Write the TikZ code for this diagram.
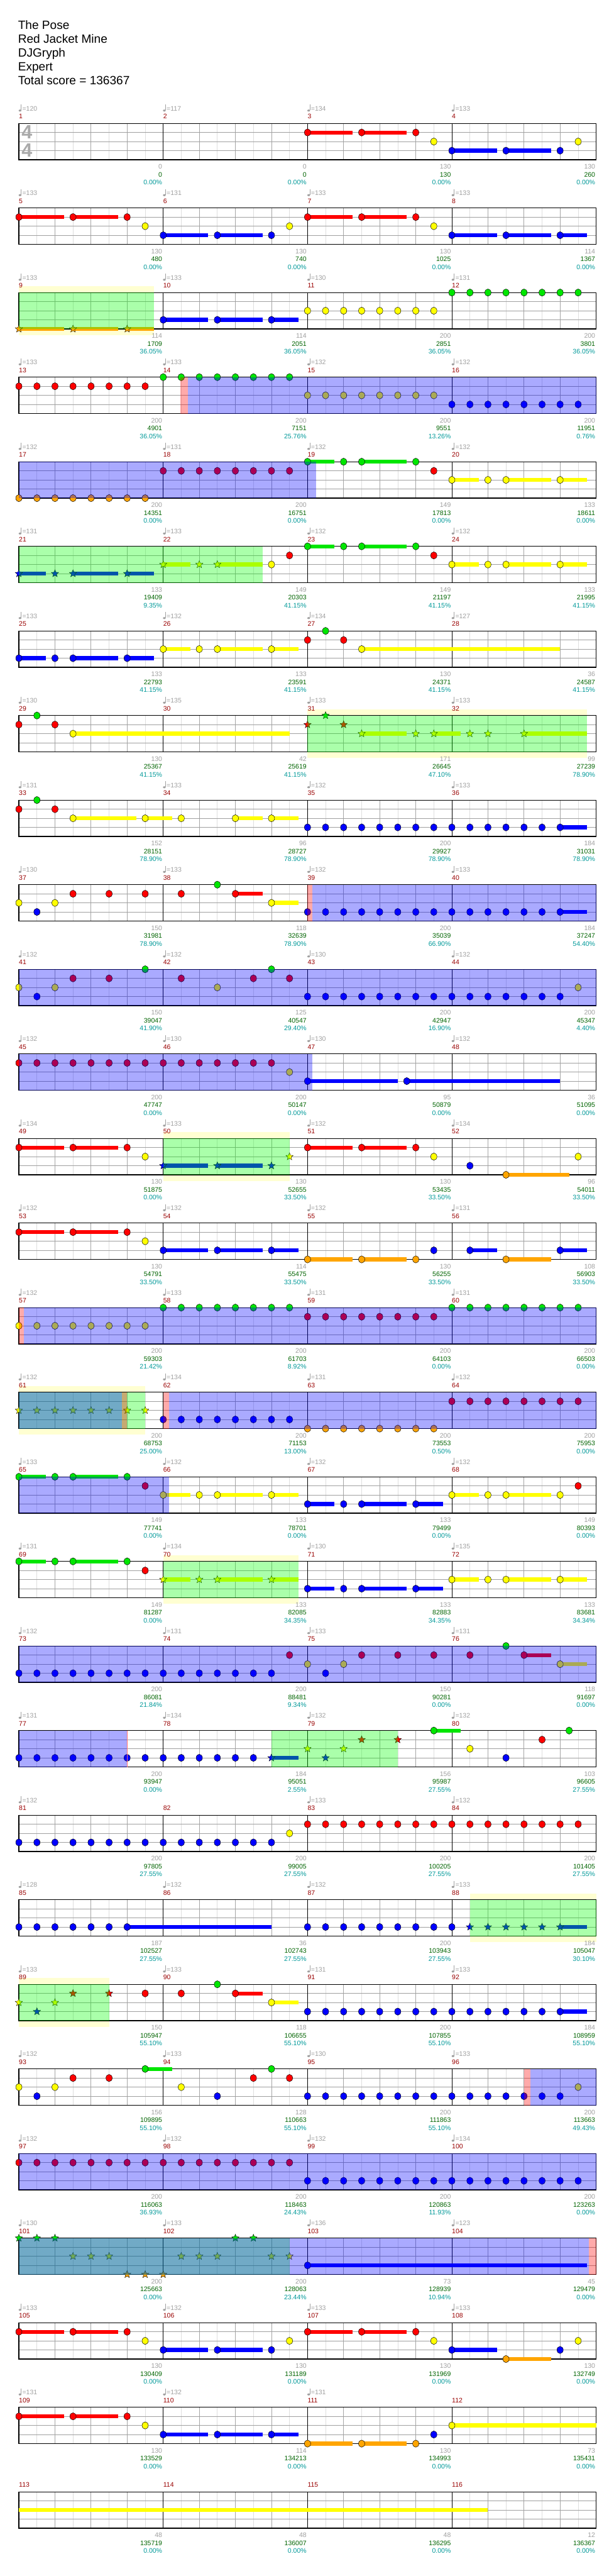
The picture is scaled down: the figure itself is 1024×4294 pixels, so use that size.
\documentclass[tikz,border=0pt]{standalone}
\usepackage{fontspec}
\setmainfont{Liberation Sans}
\usetikzlibrary{shapes.geometric}
\definecolor{cG}{RGB}{0,230,0}
\definecolor{cR}{RGB}{255,0,0}
\definecolor{cY}{RGB}{255,255,0}
\definecolor{cB}{RGB}{0,0,255}
\definecolor{cO}{RGB}{255,165,0}
\definecolor{ceighth}{RGB}{222,222,222}
\definecolor{cbeat}{RGB}{165,165,165}
\definecolor{clane}{RGB}{160,160,160}
\definecolor{ctext}{RGB}{160,160,160}
\definecolor{cmnum}{RGB}{153,0,0}
\definecolor{cscore}{RGB}{0,100,0}
\definecolor{cpct}{RGB}{0,153,153}
\definecolor{cband}{RGB}{255,255,210}
\definecolor{cts}{RGB}{170,170,170}
\newcommand\pX[1]{31.5+30.09375*(#1)}
\newcommand\rT[1]{205.7+141*(#1)}
\newcommand\lY[2]{205.7+141*(#1)+15.15*(#2)}
\tikzset{
  lbl/.style={font=\fontsize{11}{12}\selectfont, inner sep=0pt},
  mnum/.style={lbl, text=cmnum, anchor=west},
  snum/.style={lbl, anchor=east},
  tempo/.style={lbl, text=ctext, anchor=west},
  notehead/.style={draw=black, line width=0.5pt},
  starn/.style={star, star points=5, star point ratio=2.3, minimum size=13pt, inner sep=0pt, draw=black, line width=0.4pt},
  titletext/.style={font=\fontsize{20}{24}\selectfont, anchor=base west, inner sep=0pt},
}
% notes
\newcommand\Ns[4]{\foreach \p in {#4}{\filldraw[notehead, fill=#3] ({\pX{\p}},{\lY{#1}{#2}}) ellipse [x radius=5.2pt, y radius=6pt];}}
\newcommand\Ss[4]{\foreach \p in {#4}{\node[starn, fill=#3] at ({\pX{\p}},{\lY{#1}{#2}}) {};}}
\newcommand\Su[5]{\fill[#5] ({\pX{#2}},{\lY{#1}{#4}-3.3}) rectangle ({\pX{#3}},{\lY{#1}{#4}+3.3});}
% overlays
\newcommand\Ov[4]{\fill[#4, fill opacity=0.333] ({\pX{#2}},{\rT{#1}}) rectangle ({\pX{#3}},{\rT{#1}+60.6});}
\newcommand\Band[3]{\fill[cband] ({\pX{#2}},{\rT{#1}-10.4}) rectangle ({\pX{#3}},{\rT{#1}+71});}
% staff
\newcommand\Staff[1]{%
  \fill[white] (31.5,{\rT{#1}}) rectangle (994.5,{\rT{#1}+60.6});
  \foreach \k in {1,3,...,31}{\draw[ceighth, line width=0.8pt] ({\pX{\k}},{\rT{#1}}) -- ++(0,60.6);}
  \foreach \k in {2,4,6,10,12,14,18,20,22,26,28,30}{\draw[cbeat, line width=0.9pt] ({\pX{\k}},{\rT{#1}}) -- ++(0,60.6);}
  \foreach \l in {1,2,3}{\draw[clane, line width=1pt] (31.5,{\lY{#1}{\l}}) -- (994.5,{\lY{#1}{\l}});}
  \foreach \k in {8,16,24}{\draw[black, line width=0.8pt] ({\pX{\k}},{\rT{#1}}) -- ++(0,60.6);}
  \draw[black, line width=1.2pt] (31.5,{\rT{#1}}) rectangle (994.5,{\rT{#1}+60.6});}
% measure texts: row, m, tempo, a, b, c
\newcommand\Meas[6]{%
  \node[mnum] at ({31.5+240.75*(#2)},{\rT{#1}-11.7}) {\the\numexpr 4*#1+#2+1\relax};
  \ifx\relax#3\relax\else
    \fill[ctext] ({31.5+240.75*(#2)+1.9},{\rT{#1}-21.4}) ellipse [x radius=2.3pt, y radius=1.7pt];
    \draw[ctext, line width=0.6pt] ({31.5+240.75*(#2)+3.9},{\rT{#1}-21.8}) -- ({31.5+240.75*(#2)+3.9},{\rT{#1}-31.5});
    \node[tempo] at ({31.5+240.75*(#2)+5.6},{\rT{#1}-24.7}) {=#3};
  \fi
  \node[snum, text=ctext] at ({31.5+240.75*(#2+1)-1.5},{\rT{#1}+72.3}) {#4};
  \node[snum, text=cscore] at ({31.5+240.75*(#2+1)-1.5},{\rT{#1}+85.3}) {#5};
  \node[snum, text=cpct] at ({31.5+240.75*(#2+1)-1.5},{\rT{#1}+98.3}) {#6};}
\begin{document}
\begin{tikzpicture}[x=1pt,y=-1pt]
\useasboundingbox (0,0) rectangle (1024,4294);
\fill[white] (0,0) rectangle (1024,4294);
% ---------- title ----------
\node[titletext] (t1) at (30,48.3) {The Pose};
\node[titletext] (t2) at (30,71.5) {Red Jacket Mine};
\node[titletext] (t3) at (30,94.7) {DJGryph};
\node[titletext] (t4) at (30,117.9) {Expert};
\node[titletext] (t5) at (30,141.1) {Total score = 136367};
% ---------- star power bands ----------
\Band{2}{0}{7.5}
\Band{7}{16}{31.5}
\Band{12}{8}{15}
\Band{15}{0}{7}
\Band{17}{8}{15.5}
\Band{21}{25}{32}
\Band{22}{0}{5}
% ---------- staffs ----------
\foreach \r in {0,...,28}{\Staff{\r}}
\node[font=\fontsize{32}{32}\selectfont\bfseries, text=cts, inner sep=0pt] (ts1) at (45,{\rT{0}+14.8}) {4};
\node[font=\fontsize{32}{32}\selectfont\bfseries, text=cts, inner sep=0pt] (ts2) at (45,{\rT{0}+44.8}) {4};
% ---------- row 0 ----------
\Su{0}{16}{18.5}{1}{cR}\Su{0}{19}{21.5}{1}{cR}\Su{0}{24}{26.5}{3}{cB}\Su{0}{27}{29.5}{3}{cB}
\Ns{0}{1}{cR}{16,19,22}\Ns{0}{2}{cY}{23,31}\Ns{0}{3}{cB}{24,27,30}
% ---------- row 1 ----------
\Su{1}{0}{2.5}{1}{cR}\Su{1}{3}{5.5}{1}{cR}\Su{1}{8}{10.5}{3}{cB}\Su{1}{11}{13.5}{3}{cB}\Su{1}{16}{18.5}{1}{cR}\Su{1}{19}{21.5}{1}{cR}\Su{1}{24}{26.5}{3}{cB}\Su{1}{27}{29.5}{3}{cB}\Su{1}{30}{31.5}{3}{cB}
\Ns{1}{1}{cR}{0,3,6,16,19,22}\Ns{1}{2}{cY}{7,15,23}\Ns{1}{3}{cB}{8,11,14,24,27,30}
% ---------- row 2 ----------
\Su{2}{0}{2.5}{4}{cO}\Su{2}{3}{5.5}{4}{cO}\Su{2}{6}{7.5}{4}{cO}\Su{2}{8}{10.5}{3}{cB}\Su{2}{11}{13.5}{3}{cB}\Su{2}{14}{15.5}{3}{cB}
\Ss{2}{4}{cO}{0,3,6}\Ns{2}{3}{cB}{8,11,14}\Ns{2}{2}{cY}{16,...,23}\Ns{2}{0}{cG}{24,...,31}
% ---------- row 3 ----------
\Ns{3}{1}{cR}{0,...,7}\Ns{3}{0}{cG}{8,...,15}\Ns{3}{2}{cY}{16,...,23}\Ns{3}{3}{cB}{24,...,31}
% ---------- row 4 ----------
\Su{4}{16}{17.5}{0}{cG}\Su{4}{19}{21.5}{0}{cG}\Su{4}{24}{25.5}{2}{cY}\Su{4}{27}{29.5}{2}{cY}\Su{4}{30}{31.5}{2}{cY}
\Ns{4}{4}{cO}{0,...,7}\Ns{4}{1}{cR}{8,...,15}\Ns{4}{0}{cG}{16,18,19,22}\Ns{4}{1}{cR}{23}\Ns{4}{2}{cY}{24,26,27,30}
% ---------- row 5 ----------
\Su{5}{0}{1.5}{3}{cB}\Su{5}{3}{5.5}{3}{cB}\Su{5}{6}{7.5}{3}{cB}\Su{5}{8}{9.5}{2}{cY}\Su{5}{11}{13.5}{2}{cY}\Su{5}{16}{17.5}{0}{cG}\Su{5}{19}{21.5}{0}{cG}\Su{5}{24}{25.5}{2}{cY}\Su{5}{27}{29.5}{2}{cY}\Su{5}{30}{31.5}{2}{cY}
\Ss{5}{3}{cB}{0,2,3,6}\Ss{5}{2}{cY}{8,10,11}\Ns{5}{2}{cY}{14,24,26,27,30}\Ns{5}{1}{cR}{15,23}\Ns{5}{0}{cG}{16,18,19,22}
% ---------- row 6 ----------
\Su{6}{0}{1.5}{3}{cB}\Su{6}{3}{5.5}{3}{cB}\Su{6}{6}{7.5}{3}{cB}\Su{6}{8}{9.5}{2}{cY}\Su{6}{11}{13.5}{2}{cY}\Su{6}{14}{15.5}{2}{cY}\Su{6}{19}{30}{2}{cY}
\Ns{6}{3}{cB}{0,2,3,6}\Ns{6}{2}{cY}{8,10,11,14,19}\Ns{6}{1}{cR}{16,18}\Ns{6}{0}{cG}{17}
% ---------- row 7 ----------
\Su{7}{3}{15}{2}{cY}\Su{7}{19}{21.5}{2}{cY}\Su{7}{23}{24.5}{2}{cY}\Su{7}{28}{31.5}{2}{cY}
\Ns{7}{1}{cR}{0,2}\Ns{7}{0}{cG}{1}\Ns{7}{2}{cY}{3}\Ss{7}{1}{cR}{16,18}\Ss{7}{0}{cG}{17}\Ss{7}{2}{cY}{19,22,23,25,26,28}
% ---------- row 8 ----------
\Su{8}{3}{6.5}{2}{cY}\Su{8}{7}{8.5}{2}{cY}\Su{8}{12}{13.5}{2}{cY}\Su{8}{14}{15.5}{2}{cY}\Su{8}{30}{31.5}{3}{cB}
\Ns{8}{1}{cR}{0,2}\Ns{8}{0}{cG}{1}\Ns{8}{2}{cY}{3,7,9,12,14}\Ns{8}{3}{cB}{16,...,30}
% ---------- row 9 ----------
\Su{9}{12}{13.5}{1}{cR}\Su{9}{14}{15.5}{2}{cY}\Su{9}{30}{31.5}{3}{cB}
\Ns{9}{2}{cY}{0,2,14}\Ns{9}{3}{cB}{1}\Ns{9}{3}{cB}{16,...,30}\Ns{9}{1}{cR}{3,5,7,9,12}\Ns{9}{0}{cG}{11}
% ---------- row 10 ----------
\Ns{10}{2}{cY}{0,2,11,31}\Ns{10}{3}{cB}{1}\Ns{10}{3}{cB}{16,...,30}\Ns{10}{1}{cR}{3,5,9,13,15}\Ns{10}{0}{cG}{7,14}
% ---------- row 11 ----------
\Su{11}{16}{21}{3}{cB}\Su{11}{21.5}{30}{3}{cB}
\Ns{11}{1}{cR}{0,...,14}\Ns{11}{2}{cY}{15}\Ns{11}{3}{cB}{16,21.5}
% ---------- row 12 ----------
\Su{12}{0}{2.5}{1}{cR}\Su{12}{3}{5.5}{1}{cR}\Su{12}{8}{10.5}{3}{cB}\Su{12}{11}{13.5}{3}{cB}\Su{12}{16}{18.5}{1}{cR}\Su{12}{19}{21.5}{1}{cR}\Su{12}{27}{30.5}{4}{cO}
\Ns{12}{1}{cR}{0,3,6,16,19,22}\Ns{12}{2}{cY}{7,23,31}\Ss{12}{3}{cB}{8,11,14}\Ss{12}{2}{cY}{15}\Ns{12}{3}{cB}{25}\Ns{12}{4}{cO}{27}
% ---------- row 13 ----------
\Su{13}{0}{2.5}{1}{cR}\Su{13}{3}{5.5}{1}{cR}\Su{13}{8}{10.5}{3}{cB}\Su{13}{11}{13.5}{3}{cB}\Su{13}{14}{15.5}{3}{cB}\Su{13}{16}{18.5}{4}{cO}\Su{13}{19}{21.5}{4}{cO}\Su{13}{25}{26.5}{3}{cB}\Su{13}{27}{29.5}{4}{cO}\Su{13}{30}{31.5}{3}{cB}
\Ns{13}{1}{cR}{0,3,6}\Ns{13}{2}{cY}{7}\Ns{13}{3}{cB}{8,11,14,23,25,30}\Ns{13}{4}{cO}{16,19,22,27}
% ---------- row 14 ----------
\Ns{14}{2}{cY}{0,...,7}\Ns{14}{0}{cG}{8,...,15}\Ns{14}{1}{cR}{16,...,23}\Ns{14}{0}{cG}{24,...,31}
% ---------- row 15 ----------
\Ss{15}{2}{cY}{0,...,7}\Ns{15}{3}{cB}{8,...,15}\Ns{15}{4}{cO}{16,...,23}\Ns{15}{1}{cR}{24,...,31}
% ---------- row 16 ----------
\Su{16}{0}{1.5}{0}{cG}\Su{16}{3}{5.5}{0}{cG}\Su{16}{8}{9.5}{2}{cY}\Su{16}{11}{13.5}{2}{cY}\Su{16}{14}{15.5}{2}{cY}\Su{16}{16}{17.5}{3}{cB}\Su{16}{19}{21.5}{3}{cB}\Su{16}{22}{23.5}{3}{cB}\Su{16}{24}{25.5}{2}{cY}\Su{16}{27}{29.5}{2}{cY}
\Ns{16}{0}{cG}{0,2,3,6}\Ns{16}{1}{cR}{7,31}\Ns{16}{2}{cY}{8,10,11,14,24,26,27,30}\Ns{16}{3}{cB}{16,18,19,22}
% ---------- row 17 ----------
\Su{17}{0}{1.5}{0}{cG}\Su{17}{3}{5.5}{0}{cG}\Su{17}{8}{9.5}{2}{cY}\Su{17}{11}{13.5}{2}{cY}\Su{17}{14}{15.5}{2}{cY}\Su{17}{16}{17.5}{3}{cB}\Su{17}{19}{21.5}{3}{cB}\Su{17}{22}{23.5}{3}{cB}\Su{17}{24}{25.5}{2}{cY}\Su{17}{27}{29.5}{2}{cY}\Su{17}{30}{31.5}{2}{cY}
\Ns{17}{0}{cG}{0,2,3,6}\Ns{17}{1}{cR}{7}\Ss{17}{2}{cY}{8,10,11,14}\Ns{17}{2}{cY}{24,26,27,30}\Ns{17}{3}{cB}{16,18,19,22}
% ---------- row 18 ----------
\Su{18}{28}{29.5}{1}{cR}\Su{18}{30}{31.5}{2}{cY}
\Ns{18}{3}{cB}{0,...,14}\Ns{18}{3}{cB}{17}\Ns{18}{1}{cR}{15,19,21,23,25,28}\Ns{18}{2}{cY}{16,18,30}\Ns{18}{0}{cG}{27}
% ---------- row 19 ----------
\Su{19}{14}{15.5}{3}{cB}\Su{19}{23}{24.5}{0}{cG}
\Ns{19}{3}{cB}{0,...,13}\Ss{19}{3}{cB}{14,17}\Ss{19}{2}{cY}{16,18}\Ss{19}{1}{cR}{19,21}\Ns{19}{0}{cG}{23,30.5}\Ns{19}{2}{cY}{25}\Ns{19}{3}{cB}{27}\Ns{19}{1}{cR}{29}
% ---------- row 20 ----------
\Ns{20}{3}{cB}{0,...,14}\Ns{20}{2}{cY}{15}\Ns{20}{1}{cR}{16,...,31}
% ---------- row 21 ----------
\Su{21}{6}{14}{3}{cB}\Su{21}{30}{31.5}{3}{cB}
\Ns{21}{3}{cB}{0,...,6}\Ns{21}{3}{cB}{16,...,24}\Ss{21}{3}{cB}{25,...,30}
% ---------- row 22 ----------
\Su{22}{12}{13.5}{1}{cR}\Su{22}{14}{15.5}{2}{cY}\Su{22}{30}{31.5}{3}{cB}
\Ss{22}{2}{cY}{0,2}\Ss{22}{3}{cB}{1}\Ss{22}{1}{cR}{3,5}\Ns{22}{1}{cR}{7,9,12}\Ns{22}{0}{cG}{11}\Ns{22}{2}{cY}{14}\Ns{22}{3}{cB}{16,...,30}
% ---------- row 23 ----------
\Su{23}{7}{8.5}{0}{cG}
\Ns{23}{2}{cY}{0,2,9,31}\Ns{23}{3}{cB}{1,11}\Ns{23}{3}{cB}{16,...,30}\Ns{23}{1}{cR}{3,5,13,15}\Ns{23}{0}{cG}{7,14}
% ---------- row 24 ----------
\Ns{24}{1}{cR}{0,...,15}\Ns{24}{3}{cB}{16,...,31}
% ---------- row 25 ----------
\Su{25}{16}{31.5}{3}{cB}
\Ss{25}{0}{cG}{0,1,2,12,13}\Ss{25}{2}{cY}{3,4,5,9,10,11,14,15}\Ss{25}{4}{cO}{6,7,8}\Ns{25}{3}{cB}{16}
% ---------- row 26 ----------
\Su{26}{0}{2.5}{1}{cR}\Su{26}{3}{5.5}{1}{cR}\Su{26}{8}{10.5}{3}{cB}\Su{26}{11}{13.5}{3}{cB}\Su{26}{16}{18.5}{1}{cR}\Su{26}{19}{21.5}{1}{cR}\Su{26}{24}{26.5}{3}{cB}\Su{26}{27}{29.5}{4}{cO}
\Ns{26}{1}{cR}{0,3,6,16,19,22}\Ns{26}{2}{cY}{7,15,23,31}\Ns{26}{3}{cB}{8,11,14,24,30}\Ns{26}{4}{cO}{27}
% ---------- row 27 ----------
\Su{27}{0}{2.5}{1}{cR}\Su{27}{3}{5.5}{1}{cR}\Su{27}{8}{10.5}{3}{cB}\Su{27}{11}{13.5}{3}{cB}\Su{27}{14}{15.5}{3}{cB}\Su{27}{16}{18.5}{4}{cO}\Su{27}{19}{21.5}{4}{cO}\Su{27}{24}{32}{2}{cY}
\Ns{27}{1}{cR}{0,3,6}\Ns{27}{2}{cY}{7,24}\Ns{27}{3}{cB}{8,11,14,23}\Ns{27}{4}{cO}{16,19,22}
% ---------- row 28 ----------
\Su{28}{0}{26}{2}{cY}
% ---------- star power phrases (green) ----------
\Ov{2}{0}{7.5}{green}
\Ov{5}{0}{13.5}{green}
\Ov{7}{16}{31.5}{green}
\Ov{12}{8}{15}{green}
\Ov{15}{0}{7}{green}
\Ov{17}{8}{15.5}{green}
\Ov{19}{14}{21}{green}
\Ov{21}{25}{32}{green}
\Ov{22}{0}{5}{green}
\Ov{25}{0}{15}{green}
% ---------- activations (blue) ----------
\Ov{3}{9.38}{32}{blue}
\Ov{4}{0}{16.46}{blue}
\Ov{9}{16.28}{32}{blue}
\Ov{10}{0}{32}{blue}
\Ov{11}{0}{16.28}{blue}
\Ov{14}{0.26}{32}{blue}
\Ov{15}{0}{5.7}{blue}
\Ov{15}{8.32}{32}{blue}
\Ov{16}{0}{8.32}{blue}
\Ov{18}{0}{32}{blue}
\Ov{19}{0}{6}{blue}
\Ov{23}{28.36}{32}{blue}
\Ov{24}{0}{32}{blue}
\Ov{25}{0}{31.6}{blue}
% ---------- activation markers (red) ----------
\Ov{3}{8.95}{9.38}{red}
\Ov{9}{16}{16.28}{red}
\Ov{14}{0}{0.26}{red}
\Ov{15}{5.7}{6}{red}
\Ov{15}{8}{8.32}{red}
\Ov{23}{28}{28.36}{red}
\Ov{25}{31.6}{32}{red}
\draw[red!55, line width=0.8pt] ({\pX{6}},{\rT{19}}) -- ({\pX{6}},{\rT{19}+60.6});
% ---------- measure texts ----------
\Meas{0}{0}{120}{0}{0}{0.00\%}\Meas{0}{1}{117}{0}{0}{0.00\%}\Meas{0}{2}{134}{130}{130}{0.00\%}\Meas{0}{3}{133}{130}{260}{0.00\%}
\Meas{1}{0}{133}{130}{480}{0.00\%}\Meas{1}{1}{131}{130}{740}{0.00\%}\Meas{1}{2}{133}{130}{1025}{0.00\%}\Meas{1}{3}{133}{114}{1367}{0.00\%}
\Meas{2}{0}{133}{114}{1709}{36.05\%}\Meas{2}{1}{133}{114}{2051}{36.05\%}\Meas{2}{2}{130}{200}{2851}{36.05\%}\Meas{2}{3}{131}{200}{3801}{36.05\%}
\Meas{3}{0}{133}{200}{4901}{36.05\%}\Meas{3}{1}{133}{200}{7151}{25.76\%}\Meas{3}{2}{132}{200}{9551}{13.26\%}\Meas{3}{3}{132}{200}{11951}{0.76\%}
\Meas{4}{0}{132}{200}{14351}{0.00\%}\Meas{4}{1}{131}{200}{16751}{0.00\%}\Meas{4}{2}{132}{149}{17813}{0.00\%}\Meas{4}{3}{132}{133}{18611}{0.00\%}
\Meas{5}{0}{131}{133}{19409}{9.35\%}\Meas{5}{1}{133}{149}{20303}{41.15\%}\Meas{5}{2}{132}{149}{21197}{41.15\%}\Meas{5}{3}{132}{133}{21995}{41.15\%}
\Meas{6}{0}{133}{133}{22793}{41.15\%}\Meas{6}{1}{132}{133}{23591}{41.15\%}\Meas{6}{2}{134}{130}{24371}{41.15\%}\Meas{6}{3}{127}{36}{24587}{41.15\%}
\Meas{7}{0}{130}{130}{25367}{41.15\%}\Meas{7}{1}{135}{42}{25619}{41.15\%}\Meas{7}{2}{133}{171}{26645}{47.10\%}\Meas{7}{3}{133}{99}{27239}{78.90\%}
\Meas{8}{0}{131}{152}{28151}{78.90\%}\Meas{8}{1}{133}{96}{28727}{78.90\%}\Meas{8}{2}{132}{200}{29927}{78.90\%}\Meas{8}{3}{133}{184}{31031}{78.90\%}
\Meas{9}{0}{130}{150}{31981}{78.90\%}\Meas{9}{1}{133}{118}{32639}{78.90\%}\Meas{9}{2}{132}{200}{35039}{66.90\%}\Meas{9}{3}{133}{184}{37247}{54.40\%}
\Meas{10}{0}{132}{150}{39047}{41.90\%}\Meas{10}{1}{132}{125}{40547}{29.40\%}\Meas{10}{2}{130}{200}{42947}{16.90\%}\Meas{10}{3}{132}{200}{45347}{4.40\%}
\Meas{11}{0}{132}{200}{47747}{0.00\%}\Meas{11}{1}{130}{200}{50147}{0.00\%}\Meas{11}{2}{130}{95}{50879}{0.00\%}\Meas{11}{3}{132}{36}{51095}{0.00\%}
\Meas{12}{0}{134}{130}{51875}{0.00\%}\Meas{12}{1}{133}{130}{52655}{33.50\%}\Meas{12}{2}{132}{130}{53435}{33.50\%}\Meas{12}{3}{134}{96}{54011}{33.50\%}
\Meas{13}{0}{132}{130}{54791}{33.50\%}\Meas{13}{1}{132}{114}{55475}{33.50\%}\Meas{13}{2}{132}{130}{56255}{33.50\%}\Meas{13}{3}{131}{108}{56903}{33.50\%}
\Meas{14}{0}{132}{200}{59303}{21.42\%}\Meas{14}{1}{133}{200}{61703}{8.92\%}\Meas{14}{2}{131}{200}{64103}{0.00\%}\Meas{14}{3}{131}{200}{66503}{0.00\%}
\Meas{15}{0}{132}{200}{68753}{25.00\%}\Meas{15}{1}{134}{200}{71153}{13.00\%}\Meas{15}{2}{131}{200}{73553}{0.50\%}\Meas{15}{3}{132}{200}{75953}{0.00\%}
\Meas{16}{0}{133}{149}{77741}{0.00\%}\Meas{16}{1}{132}{133}{78701}{0.00\%}\Meas{16}{2}{132}{133}{79499}{0.00\%}\Meas{16}{3}{132}{149}{80393}{0.00\%}
\Meas{17}{0}{131}{149}{81287}{0.00\%}\Meas{17}{1}{134}{133}{82085}{34.35\%}\Meas{17}{2}{130}{133}{82883}{34.35\%}\Meas{17}{3}{135}{133}{83681}{34.34\%}
\Meas{18}{0}{132}{200}{86081}{21.84\%}\Meas{18}{1}{131}{200}{88481}{9.34\%}\Meas{18}{2}{133}{150}{90281}{0.00\%}\Meas{18}{3}{131}{118}{91697}{0.00\%}
\Meas{19}{0}{131}{200}{93947}{0.00\%}\Meas{19}{1}{134}{184}{95051}{2.55\%}\Meas{19}{2}{132}{156}{95987}{27.55\%}\Meas{19}{3}{132}{103}{96605}{27.55\%}
\Meas{20}{0}{132}{200}{97805}{27.55\%}\Meas{20}{1}{}{200}{99005}{27.55\%}\Meas{20}{2}{133}{200}{100205}{27.55\%}\Meas{20}{3}{132}{200}{101405}{27.55\%}
\Meas{21}{0}{128}{187}{102527}{27.55\%}\Meas{21}{1}{132}{36}{102743}{27.55\%}\Meas{21}{2}{132}{200}{103943}{27.55\%}\Meas{21}{3}{133}{184}{105047}{30.10\%}
\Meas{22}{0}{133}{150}{105947}{55.10\%}\Meas{22}{1}{133}{118}{106655}{55.10\%}\Meas{22}{2}{131}{200}{107855}{55.10\%}\Meas{22}{3}{133}{184}{108959}{55.10\%}
\Meas{23}{0}{132}{156}{109895}{55.10\%}\Meas{23}{1}{133}{128}{110663}{55.10\%}\Meas{23}{2}{130}{200}{111863}{55.10\%}\Meas{23}{3}{133}{200}{113663}{49.43\%}
\Meas{24}{0}{132}{200}{116063}{36.93\%}\Meas{24}{1}{132}{200}{118463}{24.43\%}\Meas{24}{2}{132}{200}{120863}{11.93\%}\Meas{24}{3}{134}{200}{123263}{0.00\%}
\Meas{25}{0}{130}{200}{125663}{0.00\%}\Meas{25}{1}{133}{200}{128063}{23.44\%}\Meas{25}{2}{136}{73}{128939}{10.94\%}\Meas{25}{3}{123}{45}{129479}{0.00\%}
\Meas{26}{0}{133}{130}{130409}{0.00\%}\Meas{26}{1}{132}{130}{131189}{0.00\%}\Meas{26}{2}{133}{130}{131969}{0.00\%}\Meas{26}{3}{133}{130}{132749}{0.00\%}
\Meas{27}{0}{131}{130}{133529}{0.00\%}\Meas{27}{1}{132}{114}{134213}{0.00\%}\Meas{27}{2}{131}{130}{134993}{0.00\%}\Meas{27}{3}{}{73}{135431}{0.00\%}
\Meas{28}{0}{}{48}{135719}{0.00\%}\Meas{28}{1}{}{48}{136007}{0.00\%}\Meas{28}{2}{}{48}{136295}{0.00\%}\Meas{28}{3}{}{12}{136367}{0.00\%}
\end{tikzpicture}
\end{document}
